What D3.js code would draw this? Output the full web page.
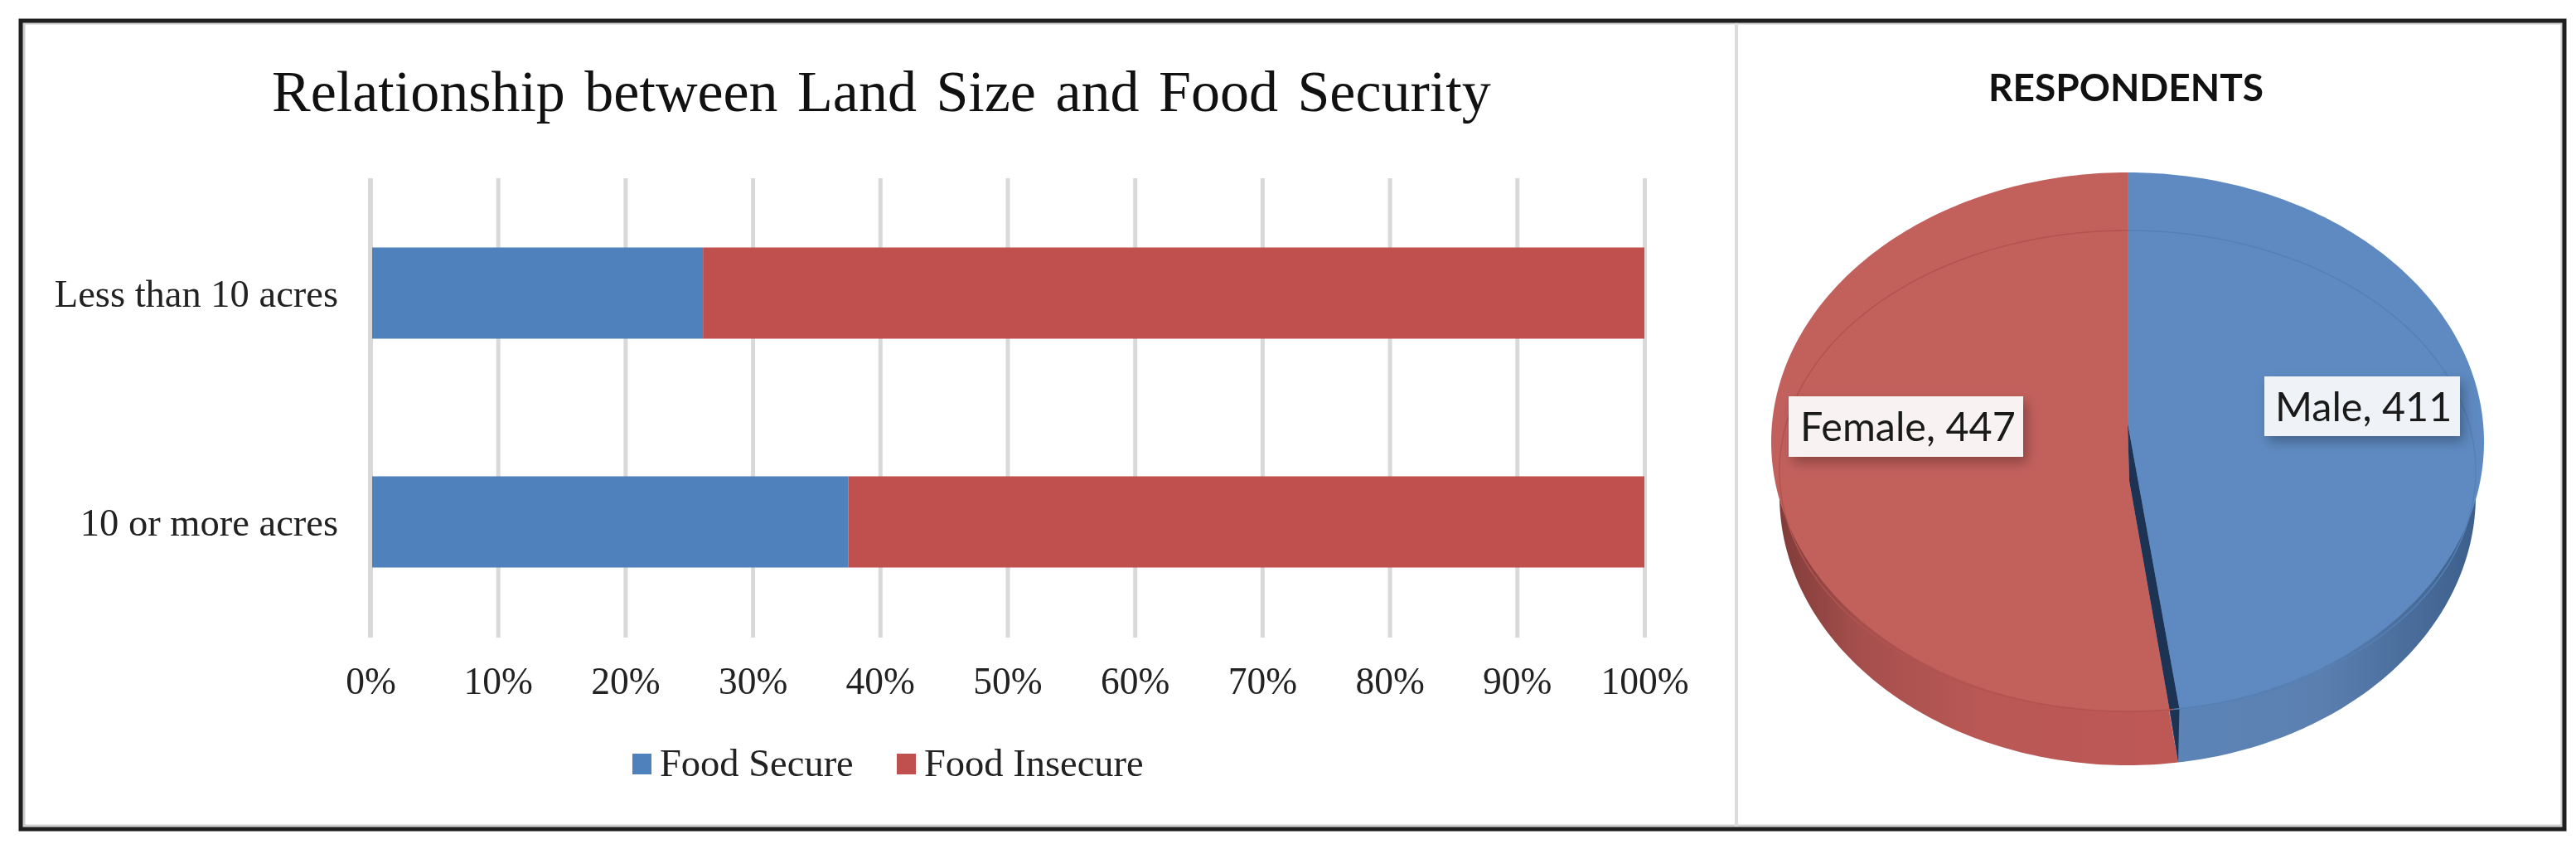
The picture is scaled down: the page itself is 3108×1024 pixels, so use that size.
<!DOCTYPE html>
<html>
<head>
<meta charset="utf-8">
<script src="https://cdn.jsdelivr.net/npm/d3@7/dist/d3.min.js"></script>
<style>html,body{margin:0;padding:0;background:#fff}svg{display:block;filter:blur(0.6px)}</style>
</head>
<body>
<svg id="chart" width="3108" height="1024"></svg>
<script>
const categories = ["Less than 10 acres", "10 or more acres"];
const foodSecure = [26.1, 37.5];
const foodInsecure = [73.9, 62.5];
const seriesNames = ["Food Secure", "Food Insecure"];
const tickValues = [0, 10, 20, 30, 40, 50, 60, 70, 80, 90, 100];
const pieLabels = ["Male", "Female"];
const pieValues = [411, 447];

const SERIF = '"Liberation Serif","Times New Roman",serif';
const SANS = 'Lato,"Open Sans",sans-serif';
const svg = d3.select("#chart");
const defs = svg.append("defs");

// Frame
svg.append("rect").attr("x", 28).attr("y", 27).attr("width", 3064).attr("height", 970)
  .attr("fill", "none").attr("stroke", "#cfcfcf").attr("stroke-width", 5);
svg.append("line").attr("x1", 2095).attr("x2", 2095).attr("y1", 27).attr("y2", 997)
  .attr("stroke", "#dcdcdc").attr("stroke-width", 4);
svg.append("rect").attr("x", 25).attr("y", 25).attr("width", 3069).attr("height", 975)
  .attr("fill", "none").attr("stroke", "#1f1f1f").attr("stroke-width", 5);

// Bar chart
const x = d3.scaleLinear().domain([0, 100]).range([447, 1984]);
const barY = d3.scalePoint().domain(categories).range([353.5, 629.5]);
const barH = 110;

svg.append("text").attr("x", 328).attr("y", 134)
  .attr("font-family", SERIF).attr("font-size", 70).attr("fill", "#111")
  .attr("word-spacing", 6)
  .text("Relationship between Land Size and Food Security");

const axis = d3.axisBottom(x).tickValues(tickValues).tickFormat(d => d + "%").tickSize(554).tickPadding(0);
const axG = svg.append("g").attr("transform", "translate(0,215)").call(axis);
axG.select(".domain").remove();
axG.selectAll("line").attr("stroke", "#d9d9d9").attr("stroke-width", 5);
axG.selectAll("text").attr("font-family", SERIF).attr("font-size", 45.5).attr("fill", "#222")
  .attr("dy", 0).attr("y", 622).attr("text-anchor", "middle");

const rows = categories.map((c, i) => ({ c, a: foodSecure[i], b: foodInsecure[i] }));
const bars = svg.append("g");
bars.selectAll("rect.sec").data(rows).join("rect").attr("class", "sec")
  .attr("x", x(0)).attr("y", d => barY(d.c) - barH / 2)
  .attr("width", d => x(d.a) - x(0)).attr("height", barH).attr("fill", "#4f81bd");
bars.selectAll("rect.ins").data(rows).join("rect").attr("class", "ins")
  .attr("x", d => x(d.a)).attr("y", d => barY(d.c) - barH / 2)
  .attr("width", d => x(d.a + d.b) - x(d.a)).attr("height", barH).attr("fill", "#c0504d");
// zero line stays on top of the bars
svg.append("line").attr("x1", x(0) - 0.5).attr("x2", x(0) - 0.5).attr("y1", 215).attr("y2", 769)
  .attr("stroke", "#d9d9d9").attr("stroke-width", 5);

svg.append("g").selectAll("text").data(categories).join("text")
  .attr("x", 408).attr("y", d => barY(d) + 16).attr("text-anchor", "end")
  .attr("font-family", SERIF).attr("font-size", 46.5).attr("fill", "#222").text(d => d);

const legendX = [763, 1082];
const legendColors = ["#4f81bd", "#c0504d"];
const lg = svg.append("g").selectAll("g").data(seriesNames).join("g");
lg.append("rect").attr("x", (d, i) => legendX[i]).attr("y", 909).attr("width", 23).attr("height", 25)
  .attr("fill", (d, i) => legendColors[i]);
lg.append("text").attr("x", (d, i) => legendX[i] + 33).attr("y", 936)
  .attr("font-family", SERIF).attr("font-size", 46.5).attr("fill", "#222").text(d => d);

// Pie chart (3D look)
svg.append("text").attr("x", 2565).attr("y", 122).attr("text-anchor", "middle")
  .attr("font-family", SANS).attr("font-weight", 700).attr("font-size", 46).attr("fill", "#111")
  .text("RESPONDENTS");

const pieCx = 2567, pieCy = 533, rx = 430, ry = 325, vertexY = 510, bendY = 580;
const sideDepth = 65, sideRx = 420;
const innerCy = 568, innerRy = 290, innerRx = 420;
const gap = 0.014;

const arcs = d3.pie().sort(null).value(d => d)(pieValues);
const sx = d3.scaleLinear().domain([-1, 1]);
const sy = d3.scaleLinear().domain([-1, 1]);
const rimPoints = (a0, a1, R, RY, cy) => {
  sx.range([pieCx - R, pieCx + R]); sy.range([cy - RY, cy + RY]);
  const n = 180;
  return d3.range(n + 1).map(i => {
    const t = a0 + (a1 - a0) * i / n;
    return [sx(Math.sin(t)), sy(-Math.cos(t))];
  });
};
const line = d3.line();

function grad(id, stops, x1, x2) {
  const g = defs.append("linearGradient").attr("id", id).attr("gradientUnits", "userSpaceOnUse")
    .attr("x1", x1).attr("x2", x2).attr("y1", 0).attr("y2", 0);
  stops.forEach(s => g.append("stop").attr("offset", s[0]).attr("stop-color", s[1]));
}
grad("sideBlue", [[0, "#5d85b8"], [0.55, "#5b80b0"], [1, "#3d5f8c"]], pieCx, pieCx + sideRx);
grad("sideRed", [[0, "#803c3a"], [0.2, "#a54f4d"], [0.5, "#b95855"], [1, "#bd5855"]], pieCx - sideRx, pieCx + 60);

const sideFill = ["url(#sideBlue)", "url(#sideRed)"];
const topFill = ["#5e8ac1", "#c2605c"];
const bevelStroke = ["#5480b6", "#b25350"];
const cut = arcs[0].endAngle;
const pieG = svg.append("g");

// side wall
pieG.selectAll("path.side").data(arcs).join("path").attr("class", "side")
  .attr("d", (d, i) => line([[pieCx, vertexY + sideDepth],
    ...rimPoints(i === 0 ? d.startAngle : cut - gap, i === 0 ? cut - gap : d.endAngle, sideRx, ry, pieCy + sideDepth)]) + "Z")
  .attr("fill", (d, i) => sideFill[i]);

// dark cut face between slices
const cutA = rimPoints(cut - gap, cut - gap, rx, ry, pieCy)[0];
const cutB = rimPoints(cut + gap, cut + gap, rx, ry, pieCy)[0];
const cutC = rimPoints(cut - gap, cut - gap, sideRx, ry, pieCy + sideDepth)[0];
pieG.append("path").attr("d", line([[pieCx, vertexY], cutA, cutC, cutB, [pieCx + 2, bendY]]) + "Z").attr("fill", "#1d3353");

// top face
pieG.append("path").attr("class", "top")
  .attr("d", line([[pieCx, vertexY], ...rimPoints(arcs[0].startAngle, cut - gap, rx, ry, pieCy)]) + "Z")
  .attr("fill", topFill[0]);
pieG.append("path").attr("class", "top")
  .attr("d", line([[pieCx, vertexY], [pieCx + 2, bendY], ...rimPoints(cut + gap, arcs[1].endAngle, rx, ry, pieCy)]) + "Z")
  .attr("fill", topFill[1]);

// bevel rim line
pieG.selectAll("path.bevel").data(arcs).join("path").attr("class", "bevel")
  .attr("d", (d, i) => line(rimPoints(i === 0 ? 0 : cut, i === 0 ? cut : 2 * Math.PI, innerRx, innerRy, innerCy)))
  .attr("fill", "none").attr("stroke", (d, i) => bevelStroke[i]).attr("stroke-width", 1.5);

// data labels
const shadow = defs.append("filter").attr("id", "lblShadow")
  .attr("x", "-20%").attr("y", "-30%").attr("width", "140%").attr("height", "170%");
shadow.append("feDropShadow").attr("dx", 5).attr("dy", 7).attr("stdDeviation", 7)
  .attr("flood-color", "#000").attr("flood-opacity", 0.28);

const labelBoxes = [
  { x: 2732, y: 454, w: 236, h: 72, tx: 2745, ty: 508, fill: "#eff3f8" },
  { x: 2158, y: 478, w: 283, h: 73, tx: 2172, ty: 532, fill: "#f9f2f2" }
];
const lbl = svg.append("g").selectAll("g").data(arcs).join("g");
lbl.append("rect").attr("x", (d, i) => labelBoxes[i].x).attr("y", (d, i) => labelBoxes[i].y)
  .attr("width", (d, i) => labelBoxes[i].w).attr("height", (d, i) => labelBoxes[i].h)
  .attr("fill", (d, i) => labelBoxes[i].fill).attr("filter", "url(#lblShadow)");
lbl.append("text").attr("x", (d, i) => labelBoxes[i].tx).attr("y", (d, i) => labelBoxes[i].ty)
  .attr("font-family", SANS).attr("font-size", 48.5).attr("fill", "#1a1a1a")
  .text((d, i) => pieLabels[i] + ", " + d.value);
</script>
</body>
</html>
